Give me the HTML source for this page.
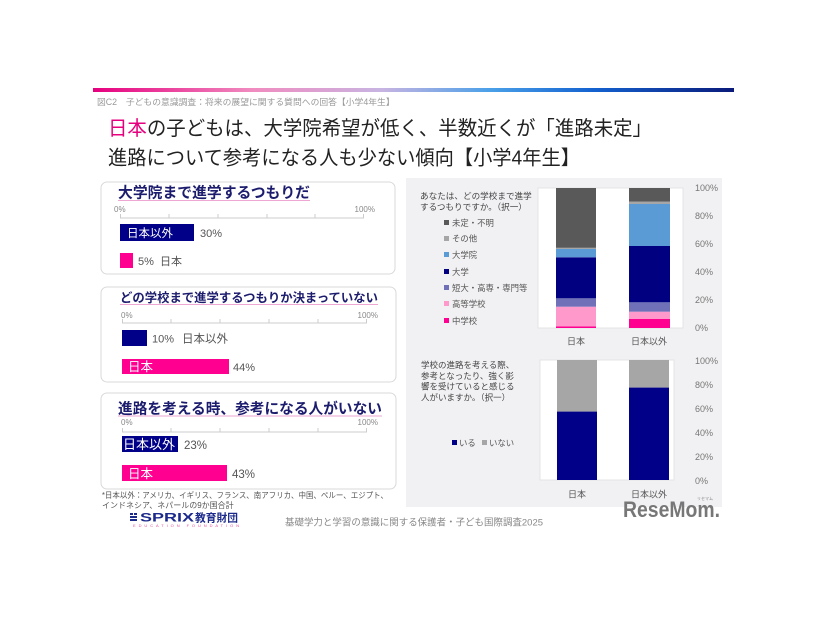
<!DOCTYPE html>
<html><head><meta charset="utf-8">
<style>
html,body{margin:0;padding:0;background:#fff;}
svg{display:block;}
text{font-family:"Liberation Sans","Noto Sans CJK JP",sans-serif;}
</style></head>
<body>
<svg width="826" height="620" viewBox="0 0 826 620" xmlns="http://www.w3.org/2000/svg">
<defs>
<linearGradient id="g" x1="0" x2="1" y1="0" y2="0">
<stop offset="0" stop-color="#e6007e"/>
<stop offset="0.25" stop-color="#f08cc0"/>
<stop offset="0.45" stop-color="#c8b4e2"/>
<stop offset="0.62" stop-color="#4aa0e8"/>
<stop offset="0.78" stop-color="#1462d0"/>
<stop offset="1" stop-color="#0a1a7a"/>
</linearGradient>
</defs>
<rect x="0" y="0" width="826" height="620" fill="#fff"/>
<rect x="93" y="88" width="641" height="4" fill="url(#g)"/>
<text x="97" y="105" font-size="8.8" fill="#999">図C2　子どもの意識調査：将来の展望に関する質問への回答【小学4年生】</text>

<text x="108" y="135" font-size="20" fill="#222" textLength="544" lengthAdjust="spacingAndGlyphs"><tspan fill="#e6007e">日本</tspan>の子どもは、大学院希望が低く、半数近くが「進路未定」</text>
<text x="108" y="164.5" font-size="20" fill="#222" textLength="472" lengthAdjust="spacingAndGlyphs">進路について参考になる人も少ない傾向【小学4年生】</text>

<!-- Panel 1 -->
<rect x="101" y="182" width="294" height="92" rx="6" fill="#fff" stroke="#d9d9d9"/>
<text x="118" y="197.5" font-size="15" font-weight="bold" fill="#1c1c6e" textLength="192" lengthAdjust="spacingAndGlyphs">大学院まで進学するつもりだ</text>
<line x1="118" y1="200.5" x2="310" y2="200.5" stroke="#eea6d2" stroke-width="1"/>
<text x="114" y="212" font-size="8" fill="#888">0%</text>
<text x="375" y="212" font-size="8" fill="#888" text-anchor="end">100%</text>
<line x1="120" y1="218" x2="364" y2="218" stroke="#ccc"/>
<g stroke="#ccc"><line x1="120.5" y1="214" x2="120.5" y2="218"/><line x1="169" y1="214" x2="169" y2="218"/><line x1="218" y1="214" x2="218" y2="218"/><line x1="267" y1="214" x2="267" y2="218"/><line x1="315" y1="214" x2="315" y2="218"/><line x1="363.5" y1="214" x2="363.5" y2="218"/></g>
<rect x="120" y="224" width="74" height="17" fill="#000088"/>
<text x="127" y="237" font-size="11.5" fill="#fff">日本以外</text>
<text x="200" y="237" font-size="11" fill="#555">30%</text>
<rect x="120" y="253" width="13" height="15" fill="#ff0090"/>
<text x="138" y="265" font-size="11" fill="#555">5%</text>
<text x="160" y="265" font-size="11" fill="#555">日本</text>

<!-- Panel 2 -->
<rect x="101" y="287" width="295" height="95" rx="6" fill="#fff" stroke="#d9d9d9"/>
<text x="120" y="301.8" font-size="12.5" font-weight="bold" fill="#1c1c6e" textLength="258" lengthAdjust="spacingAndGlyphs">どの学校まで進学するつもりか決まっていない</text>
<line x1="120" y1="304.5" x2="378" y2="304.5" stroke="#eea6d2" stroke-width="1"/>
<text x="121" y="318" font-size="8" fill="#888">0%</text>
<text x="378" y="318" font-size="8" fill="#888" text-anchor="end">100%</text>
<line x1="122" y1="323" x2="367" y2="323" stroke="#ccc"/>
<g stroke="#ccc"><line x1="122.5" y1="319" x2="122.5" y2="323"/><line x1="171" y1="319" x2="171" y2="323"/><line x1="220" y1="319" x2="220" y2="323"/><line x1="269" y1="319" x2="269" y2="323"/><line x1="318" y1="319" x2="318" y2="323"/><line x1="366.5" y1="319" x2="366.5" y2="323"/></g>
<rect x="122" y="330" width="25" height="16" fill="#000088"/>
<text x="152" y="342.5" font-size="11" fill="#555">10%</text>
<text x="182" y="342.5" font-size="11.5" fill="#555">日本以外</text>
<rect x="122" y="359" width="107" height="15" fill="#ff0090"/>
<text x="128" y="371" font-size="12.5" fill="#fff">日本</text>
<text x="233" y="371" font-size="11" fill="#555">44%</text>

<!-- Panel 3 -->
<rect x="101" y="393" width="295" height="96" rx="6" fill="#fff" stroke="#d9d9d9"/>
<text x="118" y="413.7" font-size="15" font-weight="bold" fill="#1c1c6e" textLength="264" lengthAdjust="spacingAndGlyphs">進路を考える時、参考になる人がいない</text>
<line x1="118" y1="416" x2="382" y2="416" stroke="#eea6d2" stroke-width="1"/>
<text x="121" y="425" font-size="8" fill="#888">0%</text>
<text x="378" y="425" font-size="8" fill="#888" text-anchor="end">100%</text>
<line x1="122" y1="432" x2="367" y2="432" stroke="#ccc"/>
<g stroke="#ccc"><line x1="122.5" y1="428" x2="122.5" y2="432"/><line x1="171" y1="428" x2="171" y2="432"/><line x1="220" y1="428" x2="220" y2="432"/><line x1="269" y1="428" x2="269" y2="432"/><line x1="318" y1="428" x2="318" y2="432"/><line x1="366.5" y1="428" x2="366.5" y2="432"/></g>
<rect x="122" y="436" width="56" height="16" fill="#000088"/>
<text x="123" y="449" font-size="13" fill="#fff">日本以外</text>
<text x="184" y="449" font-size="11.5" fill="#555">23%</text>
<rect x="122" y="465" width="105" height="16" fill="#ff0090"/>
<text x="128" y="478" font-size="12.5" fill="#fff">日本</text>
<text x="232" y="478" font-size="11.5" fill="#555">43%</text>

<!-- footnote -->
<text x="102" y="498" font-size="8" fill="#555" textLength="286" lengthAdjust="spacingAndGlyphs">*日本以外：アメリカ、イギリス、フランス、南アフリカ、中国、ペルー、エジプト、</text>
<text x="102" y="508" font-size="8" fill="#555">インドネシア、ネパールの9か国合計</text>

<!-- logo -->
<g fill="#1c2a8c">
<rect x="130" y="513" width="3" height="2"/><rect x="134" y="513" width="3" height="2"/>
<rect x="130" y="516" width="7" height="2"/><rect x="130" y="519" width="7" height="2"/>
</g>
<text x="140" y="521.5" font-size="12" font-weight="bold" fill="#1c2a8c" textLength="54" lengthAdjust="spacingAndGlyphs">SPRIX</text>
<text x="195" y="521.5" font-size="11" font-weight="bold" fill="#1c2a8c" textLength="43" lengthAdjust="spacingAndGlyphs">教育財団</text>
<text x="133" y="527" font-size="4" fill="#e0509a" textLength="106" lengthAdjust="spacing">EDUCATION FOUNDATION</text>

<text x="285" y="525.5" font-size="9.6" fill="#888" textLength="258" lengthAdjust="spacingAndGlyphs">基礎学力と学習の意識に関する保護者・子ども国際調査2025</text>

<!-- right panel -->
<rect x="406" y="178" width="316" height="329" fill="#f1f1f3"/>

<!-- top chart -->
<rect x="538" y="188" width="145" height="140" fill="#fff" stroke="#e0e0e0" stroke-width="0.8"/>
<!-- Japan bar: y = 328 - 1.4p -->
<rect x="556" y="326.3" width="40" height="1.7" fill="#ff0090"/>
<rect x="556" y="306.7" width="40" height="19.6" fill="#ff99cc"/>
<rect x="556" y="298.3" width="40" height="8.4" fill="#7070b8"/>
<rect x="556" y="257.3" width="40" height="41" fill="#000080"/>
<rect x="556" y="249" width="40" height="8.3" fill="#5b9bd5"/>
<rect x="556" y="247.8" width="40" height="1.2" fill="#a6a6a6"/>
<rect x="556" y="188" width="40" height="59.8" fill="#595959"/>
<!-- Non-Japan -->
<rect x="629" y="319" width="41" height="9" fill="#ff0090"/>
<rect x="629" y="311.7" width="41" height="7.3" fill="#ff99cc"/>
<rect x="629" y="302.3" width="41" height="9.4" fill="#7070b8"/>
<rect x="629" y="246" width="41" height="56.3" fill="#000080"/>
<rect x="629" y="204" width="41" height="42" fill="#5b9bd5"/>
<rect x="629" y="201.6" width="41" height="2.4" fill="#a6a6a6"/>
<rect x="629" y="188" width="41" height="13.6" fill="#595959"/>

<g font-size="9" fill="#777">
<text x="695" y="191">100%</text>
<text x="695" y="219">80%</text>
<text x="695" y="247">60%</text>
<text x="695" y="275">40%</text>
<text x="695" y="303">20%</text>
<text x="695" y="331">0%</text>
</g>
<g font-size="9" fill="#555" text-anchor="middle">
<text x="576" y="344.5">日本</text>
<text x="649" y="344.5">日本以外</text>
</g>
<g font-size="8.6" fill="#444">
<text x="420" y="199">あなたは、どの学校まで進学</text>
<text x="420" y="210">するつもりですか。（択一）</text>
</g>
<g font-size="8.4" fill="#555">
<rect x="444" y="220" width="5" height="5" fill="#595959"/><text x="452" y="226">未定・不明</text>
<rect x="444" y="236" width="5" height="5" fill="#a6a6a6"/><text x="452" y="241.5">その他</text>
<rect x="444" y="252" width="5" height="5" fill="#5b9bd5"/><text x="452" y="258">大学院</text>
<rect x="444" y="269" width="5" height="5" fill="#000080"/><text x="452" y="275">大学</text>
<rect x="444" y="285" width="5" height="5" fill="#7070b8"/><text x="452" y="291">短大・高専・専門等</text>
<rect x="444" y="301" width="5" height="5" fill="#ff99cc"/><text x="452" y="307">高等学校</text>
<rect x="444" y="318" width="5" height="5" fill="#ff0090"/><text x="452" y="324">中学校</text>
</g>

<!-- bottom chart -->
<rect x="540" y="360" width="134" height="120" fill="#fff" stroke="#e0e0e0" stroke-width="0.8"/>
<rect x="557" y="360" width="40" height="51.6" fill="#a6a6a6"/>
<rect x="557" y="411.6" width="40" height="68.4" fill="#000088"/>
<rect x="629" y="360" width="40" height="27.6" fill="#a6a6a6"/>
<rect x="629" y="387.6" width="40" height="92.4" fill="#000088"/>
<g font-size="9" fill="#777">
<text x="695" y="364">100%</text>
<text x="695" y="388">80%</text>
<text x="695" y="412">60%</text>
<text x="695" y="436">40%</text>
<text x="695" y="460">20%</text>
<text x="695" y="484">0%</text>
</g>
<g font-size="9" fill="#555" text-anchor="middle">
<text x="577" y="497.5">日本</text>
<text x="649" y="497.5">日本以外</text>
</g>
<g font-size="8.5" fill="#444">
<text x="421" y="368">学校の進路を考える際、</text>
<text x="421" y="379">参考となったり、強く影</text>
<text x="421" y="389.5">響を受けていると感じる</text>
<text x="421" y="400.5">人がいますか。（択一）</text>
</g>
<g font-size="8.4" fill="#555">
<rect x="452" y="440" width="5" height="5" fill="#000088"/><text x="459" y="446">いる</text>
<rect x="482" y="440" width="5" height="5" fill="#a6a6a6"/><text x="489" y="446">いない</text>
</g>

<!-- ReseMom -->
<text x="623" y="517" font-size="22" font-weight="bold" fill="#777" textLength="97" lengthAdjust="spacingAndGlyphs">ReseMom.</text>
<text x="697" y="500" font-size="4" fill="#888">リセマム</text>
</svg>
</body></html>
